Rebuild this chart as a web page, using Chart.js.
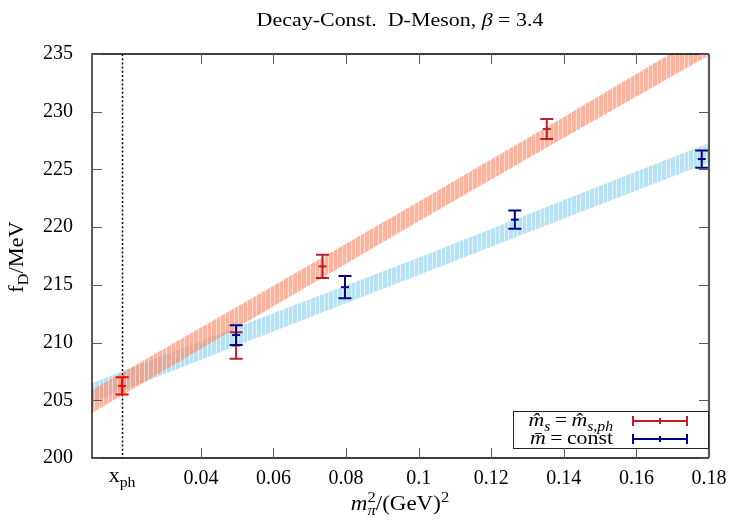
<!DOCTYPE html>
<html>
<head>
<meta charset="utf-8">
<script src="https://cdn.jsdelivr.net/npm/chart.js@4.4.0/dist/chart.umd.min.js"></script>
<style>
html, body { margin: 0; padding: 0; background: #fff; }
</style>
</head>
<body>
<canvas id="chart" width="742" height="522"></canvas>
<script>
// data
const xPhys = 0.0183;
const physY = [206.25];
const physErr = [0.75];

const redX = [0.0497, 0.0735, 0.1353];
const redY = [209.75, 216.6, 228.5];
const redErr = [1.15, 1.0, 0.87];

const blueX = [0.0497, 0.0797, 0.1265, 0.178];
const blueY = [210.65, 214.8, 220.65, 225.9];
const blueErr = [0.85, 0.97, 0.8, 0.75];

// fit bands (lower / upper edge)
const bandX = [0.01, 0.05, 0.1, 0.14, 0.18];
const orangeLow = [203.9, 211.3, 220.5, 227.75, 234.9];
const orangeHigh = [205.9, 213.1, 222.2, 229.55, 237.0];
const blueLow = [204.8, 209.75, 215.85, 220.75, 225.6];
const blueHigh = [206.5, 211.35, 217.35, 222.35, 227.3];

const xTicks = [0.04, 0.06, 0.08, 0.1, 0.12, 0.14, 0.16, 0.18];
const yTicks = [200, 205, 210, 215, 220, 225, 230, 235];

const FONT = 'Liberation Serif';
const RED = 'rgb(190,30,40)';
const NAVY = 'rgb(0,0,140)';

function stripes(color, light) {
    const c = document.createElement('canvas');
    c.width = 9; c.height = 4;
    const g = c.getContext('2d');
    g.fillStyle = color;
    g.fillRect(1, 0, 3, 4);
    g.fillRect(5, 0, 4, 4);
    g.fillStyle = light;
    g.fillRect(0, 0, 1, 4);
    g.fillRect(4, 0, 1, 4);
    return g.createPattern(c, 'repeat');
}

const pairs = (xs, ys) => xs.map((x, i) => ({ x: x, y: ys[i] }));

// rich text: parts = [{t, it, pos:'sub'|'sup', noAdvance}], sx = horizontal stretch
function drawRich(ctx, parts, x, y, align, size, sx) {
    sx = sx || 1;
    const sc = 0.72;
    function fontOf(p) {
        const s = p.pos ? size * sc : size;
        return (p.it ? 'italic ' : '') + s + 'px "' + FONT + '"';
    }
    let w = 0;
    parts.forEach(p => {
        ctx.font = fontOf(p);
        p.w = ctx.measureText(p.t).width;
        if (!p.noAdvance) w += p.w;
    });
    const start = align === 'center' ? x - w * sx / 2 : (align === 'right' ? x - w * sx : x);
    ctx.save();
    ctx.translate(start, y);
    ctx.scale(sx, 1);
    ctx.textAlign = 'left';
    ctx.textBaseline = 'alphabetic';
    let cx = 0;
    parts.forEach(p => {
        ctx.font = fontOf(p);
        let dy = 0;
        if (p.pos === 'sub') dy = size * 0.25;
        if (p.pos === 'sup') dy = -size * 0.4;
        ctx.fillText(p.t, cx, dy);
        if (!p.noAdvance) cx += p.w;
    });
    ctx.restore();
}

const decor = {
    id: 'decor',
    afterDatasetsDraw(chart) {
        const ctx = chart.ctx;
        const xs = chart.scales.x, ys = chart.scales.y;
        const a = chart.chartArea;

        // dotted line at the physical point
        ctx.save();
        ctx.strokeStyle = '#000';
        ctx.lineWidth = 1.5;
        ctx.setLineDash([2, 2.2]);
        ctx.beginPath();
        const px = Math.round(xs.getPixelForValue(xPhys)) + 0.5;
        ctx.moveTo(px, a.top);
        ctx.lineTo(px, a.bottom);
        ctx.stroke();
        ctx.restore();

        // error bars
        function bars(X, Y, E, color) {
            ctx.save();
            ctx.strokeStyle = color;
            ctx.lineWidth = 2;
            X.forEach((x, i) => {
                const p = xs.getPixelForValue(x);
                const t = ys.getPixelForValue(Y[i] + E[i]);
                const b = ys.getPixelForValue(Y[i] - E[i]);
                ctx.beginPath();
                ctx.moveTo(p, t); ctx.lineTo(p, b);
                ctx.moveTo(p - 6.5, t); ctx.lineTo(p + 6.5, t);
                ctx.moveTo(p - 6.5, b); ctx.lineTo(p + 6.5, b);
                ctx.stroke();
            });
            ctx.restore();
        }
        bars(redX, redY, redErr, RED);
        bars(blueX, blueY, blueErr, NAVY);
        bars([xPhys], physY, physErr, 'rgb(255,0,0)');

        // frame
        ctx.save();
        ctx.strokeStyle = '#000';
        ctx.lineWidth = 1.3;
        ctx.beginPath();
        ctx.moveTo(a.right, a.top); ctx.lineTo(a.left, a.top);
        ctx.lineTo(a.left, a.bottom); ctx.lineTo(a.right, a.bottom);
        ctx.stroke();
        ctx.strokeStyle = 'rgb(90,90,90)';
        ctx.lineWidth = 2.2;
        ctx.beginPath();
        ctx.moveTo(a.right, a.top); ctx.lineTo(a.right, a.bottom);
        ctx.stroke();

        // inward ticks
        ctx.strokeStyle = 'rgb(90,90,90)';
        ctx.lineWidth = 1;
        ctx.beginPath();
        xTicks.forEach(v => {
            const p = Math.round(xs.getPixelForValue(v)) + 0.5;
            ctx.moveTo(p, a.bottom); ctx.lineTo(p, a.bottom - 10);
            ctx.moveTo(p, a.top); ctx.lineTo(p, a.top + 10);
        });
        yTicks.forEach(v => {
            const p = Math.round(ys.getPixelForValue(v)) + 0.5;
            ctx.moveTo(a.left, p); ctx.lineTo(a.left + 10, p);
            ctx.moveTo(a.right, p); ctx.lineTo(a.right - 10, p);
        });
        ctx.stroke();
        ctx.restore();

        // legend
        ctx.save();
        const L = { x: 513, y: 411, w: 195, h: 37 };
        ctx.fillStyle = '#fff';
        ctx.fillRect(L.x, L.y, L.w, L.h);
        ctx.strokeStyle = '#222';
        ctx.lineWidth = 1;
        ctx.strokeRect(L.x + 0.5, L.y + 0.5, L.w, L.h);
        ctx.fillStyle = '#000';
        drawRich(ctx, [
            { t: 'm\u0302', it: true },
            { t: 's', it: true, pos: 'sub' },
            { t: '\u2009=\u2009' },
            { t: 'm\u0302', it: true },
            { t: 's,ph', it: true, pos: 'sub' }
        ], 613, 426, 'right', 19, 1.15);
        drawRich(ctx, [
            { t: 'm\u0304', it: true },
            { t: '\u2009=\u2009const' }
        ], 613, 444, 'right', 19, 1.15);
        [[421, RED], [439, NAVY]].forEach(([ly, col]) => {
            ctx.strokeStyle = col;
            ctx.lineWidth = 2;
            ctx.beginPath();
            ctx.moveTo(633, ly); ctx.lineTo(687, ly);
            ctx.moveTo(633, ly - 5); ctx.lineTo(633, ly + 5);
            ctx.moveTo(687, ly - 5); ctx.lineTo(687, ly + 5);
            ctx.moveTo(660, ly - 3); ctx.lineTo(660, ly + 3);
            ctx.stroke();
        });
        // the 0.14 tick shows through the legend box
        ctx.strokeStyle = 'rgb(90,90,90)';
        ctx.lineWidth = 1;
        const p14 = Math.round(xs.getPixelForValue(0.14)) + 0.5;
        ctx.beginPath();
        ctx.moveTo(p14, a.bottom); ctx.lineTo(p14, a.bottom - 10);
        ctx.stroke();
        ctx.restore();
    },
    afterDraw(chart) {
        const ctx = chart.ctx;
        const xs = chart.scales.x;
        ctx.save();
        ctx.fillStyle = '#000';
        // title
        drawRich(ctx, [
            { t: 'Decay-Const.  D-Meson, ' },
            { t: '\u03b2', it: true },
            { t: ' = 3.4' }
        ], 400, 26, 'center', 18, 1.22);
        // x_ph label
        drawRich(ctx, [
            { t: 'x' },
            { t: 'ph', pos: 'sub' }
        ], xs.getPixelForValue(xPhys), 482, 'center', 20, 1.1);
        // x axis title
        drawRich(ctx, [
            { t: 'm', it: true },
            { t: '2', pos: 'sup', noAdvance: true },
            { t: '\u03c0', it: true, pos: 'sub' },
            { t: '/(GeV)' },
            { t: '2', pos: 'sup' }
        ], 400, 510, 'center', 20, 1.15);
        // y axis title
        ctx.translate(23, 257);
        ctx.rotate(-Math.PI / 2);
        drawRich(ctx, [
            { t: 'f' },
            { t: 'D', pos: 'sub' },
            { t: '/MeV' }
        ], 0, 0, 'center', 20, 1.12);
        ctx.restore();
    }
};

new Chart(document.getElementById('chart'), {
    type: 'scatter',
    data: {
        datasets: [
            {
                type: 'line', data: pairs(bandX, blueLow),
                borderWidth: 0, pointRadius: 0, fill: false, order: 5
            },
            {
                type: 'line', data: pairs(bandX, blueHigh),
                borderWidth: 0, pointRadius: 0, fill: '-1', order: 5,
                backgroundColor: stripes('rgba(135,206,235,0.6)', 'rgba(135,206,235,0.25)')
            },
            {
                type: 'line', data: pairs(bandX, orangeLow),
                borderWidth: 0, pointRadius: 0, fill: false, order: 4
            },
            {
                type: 'line', data: pairs(bandX, orangeHigh),
                borderWidth: 0, pointRadius: 0, fill: '-1', order: 4,
                backgroundColor: stripes('rgba(255,140,105,0.66)', 'rgba(255,140,105,0.3)')
            },
            {
                data: pairs(redX, redY), pointStyle: 'line', pointRadius: 4,
                borderColor: RED, borderWidth: 2, order: 1
            },
            {
                data: pairs(blueX, blueY), pointStyle: 'line', pointRadius: 4,
                borderColor: NAVY, borderWidth: 2, order: 1
            },
            {
                data: pairs([xPhys], physY), pointStyle: 'line', pointRadius: 4,
                borderColor: 'rgb(255,0,0)', borderWidth: 2, order: 1
            }
        ]
    },
    options: {
        responsive: false,
        animation: false,
        layout: { padding: { top: 54, right: 33, left: 0, bottom: 0 } },
        plugins: {
            legend: { display: false },
            tooltip: { enabled: false },
            title: { display: false }
        },
        scales: {
            x: {
                type: 'linear',
                min: 0.01,
                max: 0.18,
                afterFit: s => { s.height = 64; },
                afterBuildTicks: s => { s.ticks = xTicks.map(v => ({ value: v })); },
                grid: { display: false, drawTicks: false },
                border: { display: false },
                ticks: {
                    padding: 9,
                    maxRotation: 0,
                    autoSkip: false,
                    color: '#000',
                    font: { family: FONT, size: 20 },
                    callback: v => String(v)
                }
            },
            y: {
                min: 200,
                max: 235,
                afterFit: s => { s.width = 92; },
                afterBuildTicks: s => { s.ticks = yTicks.map(v => ({ value: v })); },
                grid: { display: false, drawTicks: false },
                border: { display: false },
                ticks: {
                    padding: 19,
                    color: '#000',
                    font: { family: FONT, size: 20 }
                }
            }
        }
    },
    plugins: [decor]
});
</script>
</body>
</html>
